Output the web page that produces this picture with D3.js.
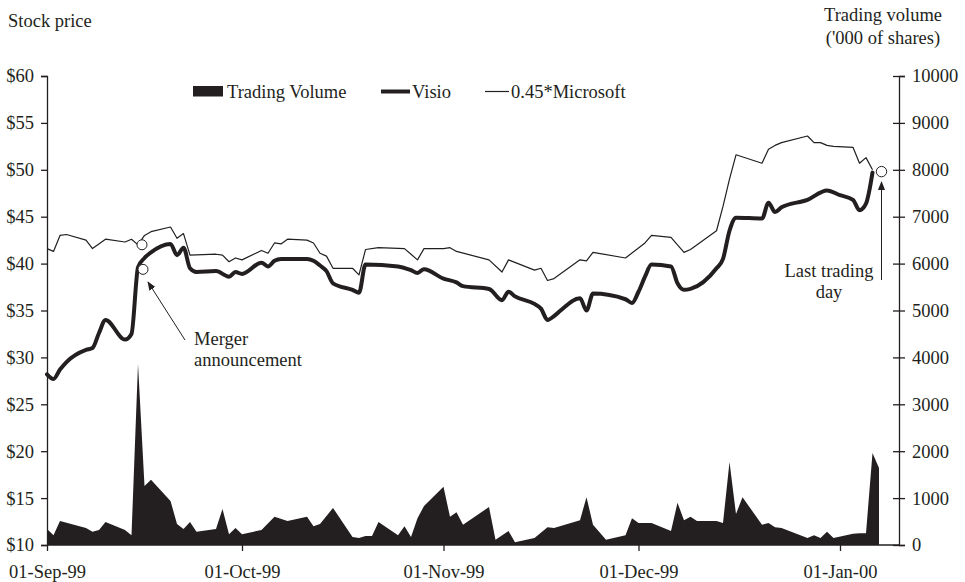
<!DOCTYPE html>
<html><head><meta charset="utf-8">
<script src="https://cdn.jsdelivr.net/npm/d3@7"></script>
<style>
body{margin:0;background:#fff;}
svg{display:block;font-family:"Liberation Serif","Times New Roman",serif;}
</style></head><body>
<div id="chart"></div>
<script>
// ---- data (day offsets from 01-Sep-1999) ----
const baseDate = Date.UTC(1999, 8, 1);
const visioDays  = [0,1,2,3,6,7,8,9,12,13,14,15,16,19,20,21,22,23,26,28,29,30,33,34,35,36,37,40,41,42,43,44,47,48,49,54,56,57,58,61,63,64,68,70,71,72,75,76,77,78,79,82,83,84,89,90,91,92,93,96,97,98,99,103,104,105,106,110,111,112,113,117,120,122,124,125,126,127];
const visioPrice = [28.2,27.7,28.7,29.5,30.8,31.0,32.6,34.0,31.9,32.5,39.6,40.6,41.2,42.1,40.9,41.7,39.5,39.1,39.2,38.6,39.1,38.9,40.1,39.7,40.3,40.5,40.5,40.5,40.3,39.8,39.2,37.9,37.2,36.9,39.9,39.7,39.3,39.0,39.4,38.4,38.0,37.6,37.3,36.1,37.0,36.5,35.7,35.2,34.0,34.4,35.0,36.3,35.0,36.8,36.2,35.8,37.0,38.6,39.9,39.7,37.9,37.2,37.3,39.5,40.5,43.5,44.9,44.8,46.5,45.5,46.0,46.8,47.8,47.3,46.8,45.7,46.4,49.7];
const msftDays   = [0,1,2,3,6,7,9,12,13,14,15,16,19,20,21,22,26,27,28,29,30,33,34,35,36,37,40,41,42,43,44,47,48,49,51,55,56,57,58,61,62,63,68,70,71,75,76,77,78,82,83,84,89,92,93,96,97,98,99,103,104,105,106,110,111,112,113,117,118,119,120,121,124,125,126,127];
const msftPrice  = [41.6,41.3,43.0,43.1,42.5,41.6,42.6,42.3,42.6,42.0,43.0,43.4,43.9,42.7,43.2,40.9,41.0,40.9,40.2,40.6,40.4,41.4,41.1,42.2,42.1,42.6,42.5,42.2,41.1,40.8,39.5,39.5,38.8,41.5,41.7,41.6,41.0,40.4,41.6,41.6,41.7,41.3,40.4,39.1,40.4,39.3,39.5,38.2,38.4,40.4,40.3,41.2,40.6,42.2,43.0,42.8,42.0,41.2,41.5,43.5,46.1,49.0,51.6,50.7,52.2,52.6,52.9,53.6,52.9,52.9,52.6,52.5,52.4,50.7,51.3,50.0];
const volDays    = [0,1,2,6,7,8,9,12,13,14,15,16,19,20,21,22,23,26,27,28,29,30,33,35,37,40,41,42,44,47,48,49,50,51,54,55,56,57,58,61,62,63,64,68,69,71,72,75,77,78,82,83,84,86,89,90,91,93,96,97,98,99,100,103,104,105,106,107,110,111,112,113,117,118,119,120,121,124,125,126,127,128];
const volumes    = [340,210,510,360,280,320,490,320,210,3860,1260,1390,940,450,340,490,280,340,770,230,360,230,320,600,510,600,400,450,790,170,150,190,190,490,210,400,170,570,830,1240,600,700,430,810,110,300,60,150,380,360,530,1020,430,110,210,570,470,470,300,900,530,600,510,510,470,1770,660,1020,430,470,380,360,150,210,150,280,150,240,250,250,1960,1640];
const priceTicks  = [10,15,20,25,30,35,40,45,50,55,60];
const volumeTicks = [0,1000,2000,3000,4000,5000,6000,7000,8000,9000,10000];
const legendLabels = ["Trading Volume","Visio","0.45*Microsoft"];

const day = d => d3.utcDay.offset(new Date(baseDate), d);
const W = 965, H = 582;
const ink = "#231f20";
const FS = "18.5px";

const svg = d3.select("#chart").append("svg").attr("width", W).attr("height", H);

const x = d3.scaleUtc().domain([day(0), day(131)]).range([47, 898.5]);
const yL = d3.scaleLinear().domain([10, 60]).range([545, 76]);
const yR = d3.scaleLinear().domain([0, 10000]).range([545, 76]);

// volume area
const vol = volDays.map((d, i) => ({ d: day(d), v: volumes[i] }));
svg.append("path").datum(vol)
  .attr("fill", ink)
  .attr("d", d3.area().x(p => x(p.d)).y0(yR(0)).y1(p => yR(p.v)));

// lines
const msft = msftDays.map((d, i) => ({ d: day(d), v: msftPrice[i] }));
const visio = visioDays.map((d, i) => ({ d: day(d), v: visioPrice[i] }));
const line = d3.line().x(p => x(p.d)).y(p => yL(p.v));
svg.append("path").datum(msft).attr("fill", "none").attr("stroke", ink)
  .attr("stroke-width", 1.2).attr("stroke-linejoin", "round").attr("d", line);
svg.append("path").datum(visio).attr("fill", "none").attr("stroke", ink)
  .attr("stroke-width", 4).attr("stroke-linejoin", "round").attr("stroke-linecap", "round")
  .attr("d", line.curve(d3.curveMonotoneX));

// axes
const axL = svg.append("g").attr("transform", "translate(47,0)")
  .call(d3.axisLeft(yL).tickValues(priceTicks).tickFormat(d => "$" + d).tickSize(6).tickPadding(7));
const axR = svg.append("g").attr("transform", "translate(899,0)")
  .call(d3.axisRight(yR).tickValues(volumeTicks).tickFormat(d3.format("d")).tickSize(6).tickPadding(7));
axR.selectAll(".tick line").attr("x1", -6);
const axB = svg.append("g").attr("transform", "translate(0,545)")
  .call(d3.axisBottom(x).ticks(d3.utcMonth.every(1)).tickFormat(d3.utcFormat("%d-%b-%y")).tickSize(6).tickPadding(14));
axB.select(".domain").attr("d", "M47,0H899");
[axL, axR, axB].forEach(a => {
  a.select(".domain").attr("stroke", ink).attr("stroke-width", 1.3);
  a.selectAll(".tick line").attr("stroke", ink).attr("stroke-width", 1.3);
  a.selectAll("text").attr("fill", ink).style("font-size", FS).style("font-family", "Liberation Serif");
});

// axis titles
svg.append("text").attr("x", 8).attr("y", 27).attr("fill", ink).style("font-size", FS).text("Stock price");
svg.append("text").attr("x", 883).attr("y", 21).attr("text-anchor", "middle").attr("fill", ink).style("font-size", FS).text("Trading volume");
svg.append("text").attr("x", 883).attr("y", 44).attr("text-anchor", "middle").attr("fill", ink).style("font-size", FS).text("('000 of shares)");

// legend
const lg = svg.append("g");
lg.append("rect").attr("x", 193).attr("y", 86).attr("width", 30).attr("height", 10.5).attr("fill", ink);
lg.append("text").attr("x", 227).attr("y", 97.5).attr("fill", ink).style("font-size", FS).text(legendLabels[0]);
lg.append("line").attr("x1", 381).attr("x2", 410).attr("y1", 91.5).attr("y2", 91.5).attr("stroke", ink).attr("stroke-width", 4);
lg.append("text").attr("x", 412).attr("y", 97.5).attr("fill", ink).style("font-size", FS).text(legendLabels[1]);
lg.append("line").attr("x1", 485).attr("x2", 509).attr("y1", 91.5).attr("y2", 91.5).attr("stroke", ink).attr("stroke-width", 1.2);
lg.append("text").attr("x", 511).attr("y", 97.5).attr("fill", ink).style("font-size", FS).text(legendLabels[2]);

// annotation markers
const mergerDay = day(14);
svg.append("circle").attr("cx", x(mergerDay) + 4).attr("cy", yL(41.9) - 1).attr("r", 5)
  .attr("fill", "#fff").attr("stroke", ink).attr("stroke-width", 1);
svg.append("circle").attr("cx", x(mergerDay) + 5).attr("cy", yL(39.6) + 2).attr("r", 5)
  .attr("fill", "#fff").attr("stroke", ink).attr("stroke-width", 1);
svg.append("circle").attr("cx", x(day(127)) + 9).attr("cy", yL(49.7) - 1).attr("r", 5.2)
  .attr("fill", "#fff").attr("stroke", ink).attr("stroke-width", 1);

const defs = svg.append("defs");
defs.append("marker").attr("id", "ah").attr("viewBox", "0 0 10 10").attr("refX", 9).attr("refY", 5)
  .attr("markerWidth", 9).attr("markerHeight", 9).attr("markerUnits", "userSpaceOnUse").attr("orient", "auto")
  .append("path").attr("d", "M0,1 L10,5 L0,9 z").attr("fill", ink);

svg.append("line").attr("x1", 185).attr("y1", 340).attr("x2", x(mergerDay) + 10).attr("y2", 282)
  .attr("stroke", ink).attr("stroke-width", 1).attr("marker-end", "url(#ah)");
svg.append("text").attr("x", 194).attr("y", 345).attr("fill", ink).style("font-size", FS).text("Merger");
svg.append("text").attr("x", 194).attr("y", 366).attr("fill", ink).style("font-size", FS).text("announcement");

svg.append("line").attr("x1", x(day(127)) + 9).attr("y1", 280).attr("x2", x(day(127)) + 9).attr("y2", 182)
  .attr("stroke", ink).attr("stroke-width", 1).attr("marker-end", "url(#ah)");
svg.append("text").attr("x", 829).attr("y", 277).attr("text-anchor", "middle").attr("fill", ink).style("font-size", FS).text("Last trading");
svg.append("text").attr("x", 829).attr("y", 298).attr("text-anchor", "middle").attr("fill", ink).style("font-size", FS).text("day");
</script>
</body></html>
